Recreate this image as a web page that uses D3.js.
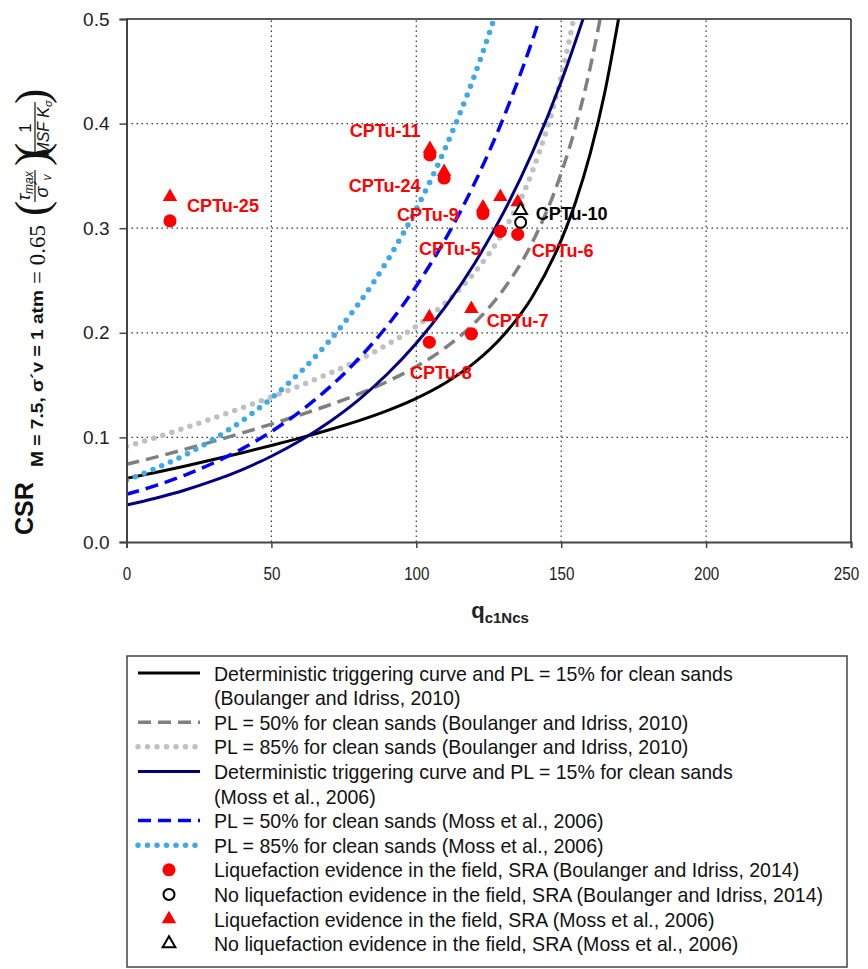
<!DOCTYPE html>
<html>
<head>
<meta charset="utf-8">
<script src="https://cdn.jsdelivr.net/npm/d3@7"></script>
<style>
body { margin: 0; background: #fff; overflow: hidden; }
text { font-family: "Liberation Sans", Arial, sans-serif; }
</style>
</head>
<body>
<div id="chart"></div>
<script>
// curves (q_c1Ncs -> CSR)
var biQ = [0, 10, 20, 30, 40, 50, 60, 70, 80, 90, 100, 110, 120, 130, 140, 150, 155, 160, 165, 170];
var biPL15 = [0.0608, 0.0664, 0.0724, 0.0788, 0.0854, 0.0923, 0.0995, 0.1073, 0.1158, 0.1256, 0.1373, 0.1520, 0.1712, 0.1974, 0.2343, 0.2886, 0.3253, 0.3713, 0.4293, 0.5035];
var biPL50 = [0.0743, 0.0811, 0.0885, 0.0962, 0.1043, 0.1127, 0.1216, 0.1310, 0.1414, 0.1534, 0.1677, 0.1857, 0.2091, 0.2411, 0.2862, 0.3526, 0.3974, 0.4535, 0.5243, 0.6149];
var biPL85 = [0.0914, 0.0998, 0.1089, 0.1184, 0.1283, 0.1387, 0.1496, 0.1612, 0.1740, 0.1887, 0.2063, 0.2284, 0.2573, 0.2966, 0.3540, 0.4450, 0.5100, 0.5850, 0.6600, 0.7566];

var mossQ = [0, 10, 20, 30, 40, 50, 60, 70, 80, 90, 100, 110, 120, 130, 140, 150, 160];
var mossPL15 = [0.0354, 0.0419, 0.0495, 0.0586, 0.0693, 0.0820, 0.0970, 0.1148, 0.1357, 0.1606, 0.1900, 0.2247, 0.2658, 0.3144, 0.3720, 0.4400, 0.5205];
var mossPL50 = [0.0456, 0.0539, 0.0638, 0.0755, 0.0893, 0.1056, 0.1250, 0.1478, 0.1749, 0.2068, 0.2447, 0.2894, 0.3424, 0.4050, 0.4791, 0.5667];
var mossPL85 = [0.0593, 0.0702, 0.0830, 0.0982, 0.1161, 0.1374, 0.1625, 0.1922, 0.2274, 0.2690, 0.3182, 0.3764, 0.4453, 0.5267];

// site points
var sites = ["CPTu-25", "CPTu-11", "CPTu-24", "CPTu-9", "CPTu-5", "CPTu-6", "CPTu-7", "CPTu-8"];
var siteQ = [15, 104.7, 109.6, 123, 129, 135, 119, 104.5];
var siteCsrBI = [0.307, 0.370, 0.348, 0.314, 0.297, 0.294, 0.199, 0.191];
var siteCsrMoss = [0.330, 0.376, 0.354, 0.320, 0.330, 0.325, 0.223, 0.215];
var noLiqSite = "CPTu-10";
var noLiqQ = [136];
var noLiqCsrBI = [0.3056];
var noLiqCsrMoss = [0.317];

// label anchors (left end, middle)
var labelNames = ["CPTu-25", "CPTu-11", "CPTu-24", "CPTu-9", "CPTu-5", "CPTu-6", "CPTu-10", "CPTu-7", "CPTu-8"];
var labelQ = [20.9, 77, 76.7, 93.3, 100.9, 139.8, 141.2, 124.3, 97.8];
var labelCsr = [0.322, 0.394, 0.341, 0.313, 0.281, 0.279, 0.314, 0.212, 0.1625];

var xTicks = [0, 50, 100, 150, 200, 250];
var yTicks = [0, 0.1, 0.2, 0.3, 0.4, 0.5];

var legendLabels = [
  ["Deterministic triggering curve and PL = 15% for clean sands", "(Boulanger and Idriss, 2010)"],
  ["PL = 50% for clean sands (Boulanger and Idriss, 2010)"],
  ["PL = 85% for clean sands (Boulanger and Idriss, 2010)"],
  ["Deterministic triggering curve and PL = 15% for clean sands", "(Moss et al., 2006)"],
  ["PL = 50% for clean sands (Moss et al., 2006)"],
  ["PL = 85% for clean sands (Moss et al., 2006)"],
  ["Liquefaction evidence in the field, SRA (Boulanger and Idriss, 2014)"],
  ["No liquefaction evidence in the field, SRA (Boulanger and Idriss, 2014)"],
  ["Liquefaction evidence in the field, SRA (Moss et al., 2006)"],
  ["No liquefaction evidence in the field, SRA (Moss et al., 2006)"]
];

var W = 868, H = 969;
var svg = d3.select("#chart").append("svg")
  .attr("width", W).attr("height", H);

var x = d3.scaleLinear().domain([0, 250]).range([126.5, 851]);
var y = d3.scaleLinear().domain([0, 0.5]).range([542, 19]);

// squeeze text horizontally, the original uses a narrow face
function narrow(sel, k) {
  sel.each(function() {
    var len = this.getComputedTextLength();
    d3.select(this).attr("textLength", len * k).attr("lengthAdjust", "spacingAndGlyphs");
  });
}

// grid
var grid = svg.append("g").attr("class", "grid");
grid.selectAll("line.v").data([50, 100, 150, 200]).enter().append("line")
  .attr("x1", x).attr("x2", x).attr("y1", y(0)).attr("y2", y(0.5))
  .attr("stroke", "#333").attr("stroke-width", 1.2).attr("stroke-dasharray", "1.5,3.5");
grid.selectAll("line.h").data([0.1, 0.2, 0.3, 0.4]).enter().append("line")
  .attr("y1", y).attr("y2", y).attr("x1", x(0)).attr("x2", x(250))
  .attr("stroke", "#333").attr("stroke-width", 1.2).attr("stroke-dasharray", "1.5,3.5");

svg.append("clipPath").attr("id", "plotclip").append("rect")
  .attr("x", x(0)).attr("y", y(0.5)).attr("width", x(250) - x(0)).attr("height", y(0) - y(0.5));

var curves = [
  {q: biQ, v: biPL85, color: "#c0c0c0", w: 5.5, dash: "0,9.5", cap: "round"},
  {q: biQ, v: biPL50, color: "#808080", w: 3.5, dash: "13,7", cap: "butt"},
  {q: biQ, v: biPL15, color: "#000000", w: 3, dash: null, cap: "butt"},
  {q: mossQ, v: mossPL85, color: "#3fa9e6", w: 5.5, dash: "0,9.5", cap: "round"},
  {q: mossQ, v: mossPL50, color: "#0000ff", w: 3.5, dash: "13,7", cap: "butt"},
  {q: mossQ, v: mossPL15, color: "#000080", w: 3, dash: null, cap: "butt"}
];

var line = d3.line().curve(d3.curveMonotoneX)
  .x(function(d) { return x(d[0]); })
  .y(function(d) { return y(d[1]); });

var curveG = svg.append("g").attr("clip-path", "url(#plotclip)");
curves.forEach(function(c) {
  var pts = c.v.map(function(v, i) { return [c.q[i], v]; });
  curveG.append("path")
    .attr("d", line(pts))
    .attr("fill", "none")
    .attr("stroke", c.color)
    .attr("stroke-width", c.w)
    .attr("stroke-linecap", c.cap)
    .attr("stroke-dasharray", c.dash);
});

// axes
svg.append("g")
  .attr("transform", "translate(0," + y(0) + ")")
  .call(d3.axisBottom(x).tickValues(xTicks).tickSize(6).tickPadding(19))
  .call(function(g) {
    g.select(".domain").attr("stroke", "#444").attr("stroke-width", 2);
    g.selectAll(".tick line").attr("stroke", "#444").attr("stroke-width", 1.5);
    g.selectAll("text").attr("font-size", 19).attr("fill", "#222").call(narrow, 0.8)
      .attr("dx", function(d) { return d == 250 ? -5 : 0; });
  });

svg.append("g")
  .attr("transform", "translate(" + x(0) + ",0)")
  .call(d3.axisLeft(y).tickValues(yTicks).tickFormat(d3.format(".1f")).tickSize(7).tickPadding(10))
  .call(function(g) {
    g.select(".domain").attr("stroke", "#444").attr("stroke-width", 2);
    g.selectAll(".tick line").attr("stroke", "#444").attr("stroke-width", 1.5);
    g.selectAll("text").attr("font-size", 19).attr("fill", "#222");
  });

// top and right frame
svg.append("line").attr("x1", x(0)).attr("x2", x(250)).attr("y1", y(0.5)).attr("y2", y(0.5))
  .attr("stroke", "#222").attr("stroke-width", 1.5);
svg.append("line").attr("x1", x(250)).attr("x2", x(250)).attr("y1", y(0.5)).attr("y2", y(0))
  .attr("stroke", "#222").attr("stroke-width", 1.5);

// markers
var circleSym = d3.symbol().type(d3.symbolCircle).size(135);
var triSym = d3.symbol().type(d3.symbolTriangle).size(90);
var circleSmall = d3.symbol().type(d3.symbolCircle).size(95);
var triSmall = d3.symbol().type(d3.symbolTriangle).size(70);

var marks = svg.append("g");
marks.selectAll("path.tri").data(siteQ).enter().append("path")
  .attr("d", triSym)
  .attr("transform", function(d, i) { return "translate(" + x(d) + "," + y(siteCsrMoss[i]) + ")"; })
  .attr("fill", "#ff0000");
marks.selectAll("path.cir").data(siteQ).enter().append("path")
  .attr("d", circleSym)
  .attr("transform", function(d, i) { return "translate(" + x(d) + "," + y(siteCsrBI[i]) + ")"; })
  .attr("fill", "#ff0000");
marks.selectAll("path.otri").data(noLiqQ).enter().append("path")
  .attr("d", triSmall)
  .attr("transform", function(d, i) { return "translate(" + x(d) + "," + y(noLiqCsrMoss[i]) + ")"; })
  .attr("fill", "#fff").attr("stroke", "#000").attr("stroke-width", 2);
marks.selectAll("path.ocir").data(noLiqQ).enter().append("path")
  .attr("d", circleSmall)
  .attr("transform", function(d, i) { return "translate(" + x(d) + "," + y(noLiqCsrBI[i]) + ")"; })
  .attr("fill", "#fff").attr("stroke", "#000").attr("stroke-width", 2);

svg.append("g").selectAll("text").data(labelNames).enter().append("text")
  .attr("x", function(d, i) { return x(labelQ[i]); })
  .attr("y", function(d, i) { return y(labelCsr[i]); })
  .attr("dy", "0.36em")
  .attr("font-size", 19).attr("font-weight", "bold")
  .attr("fill", function(d) { return d == noLiqSite ? "#000" : "#ff0000"; })
  .text(function(d) { return d; })
  .call(narrow, 0.95);

// x axis title
var xt = svg.append("text").attr("x", 500).attr("y", 618)
  .attr("text-anchor", "middle").attr("font-weight", "bold").attr("fill", "#222");
xt.append("tspan").attr("font-size", 22).text("q");
xt.append("tspan").attr("font-size", 15).attr("dy", 5).text("c1Ncs");

// y axis title (rotated)
var yt = svg.append("g").attr("transform", "rotate(-90)");
yt.append("text").attr("x", -535).attr("y", 33)
  .attr("font-size", 25).attr("font-weight", "bold").attr("fill", "#111").text("CSR");
yt.append("text").attr("x", -467).attr("y", 43)
  .attr("font-size", 17).attr("font-weight", "bold").attr("fill", "#111")
  .attr("textLength", 177).attr("lengthAdjust", "spacingAndGlyphs")
  .text("M = 7.5, σ´v = 1 atm");
var serif = "'Liberation Serif', 'DejaVu Serif', serif";
yt.append("text").attr("x", -284).attr("y", 45)
  .attr("font-size", 23).attr("fill", "#111").style("font-family", serif).text("= 0.65");
// parentheses
[[-216, "("], [-166, ")"], [-158, "("], [-104, ")"]].forEach(function(p) {
  yt.append("text").attr("x", p[0]).attr("y", 47)
    .attr("font-size", 46).attr("fill", "#111").style("font-family", serif)
    .text(p[1]);
});
// fraction 1
var f1 = yt.append("g").style("font-family", serif).attr("fill", "#111");
var n1 = f1.append("text").attr("x", -186).attr("y", 30).attr("text-anchor", "middle").attr("font-style", "italic");
n1.append("tspan").attr("font-size", 18).text("τ");
n1.append("tspan").attr("font-size", 12).attr("dy", 3).text("max");
f1.append("line").attr("x1", -202).attr("x2", -170).attr("y1", 35).attr("y2", 35).attr("stroke", "#111").attr("stroke-width", 1.2);
var d1 = f1.append("text").attr("x", -186).attr("y", 48).attr("text-anchor", "middle").attr("font-style", "italic");
d1.append("tspan").attr("font-size", 18).text("σ´");
d1.append("tspan").attr("font-size", 12).attr("dy", 3).text("v");
// fraction 2
var f2 = yt.append("g").style("font-family", serif).attr("fill", "#111");
f2.append("text").attr("x", -128).attr("y", 31).attr("text-anchor", "middle").attr("font-size", 17).text("1");
f2.append("line").attr("x1", -154).attr("x2", -102).attr("y1", 35).attr("y2", 35).attr("stroke", "#111").attr("stroke-width", 1.2);
var d2 = f2.append("text").attr("x", -128).attr("y", 49).attr("text-anchor", "middle").attr("font-style", "italic");
d2.append("tspan").attr("font-size", 16).text("MSF K");
d2.append("tspan").attr("font-size", 11).attr("dy", 3).text("σ");

// legend
var lg = svg.append("g");
lg.append("rect").attr("x", 127).attr("y", 656).attr("width", 720).attr("height", 311)
  .attr("fill", "none").attr("stroke", "#444").attr("stroke-width", 1.5);

var legendSwatch = [
  {type: "line", c: curves[2]}, {type: "line", c: curves[1]}, {type: "line", c: curves[0]},
  {type: "line", c: curves[5]}, {type: "line", c: curves[4]}, {type: "line", c: curves[3]},
  {type: "circle", fill: "#ff0000"}, {type: "circle", fill: "#fff"},
  {type: "tri", fill: "#ff0000"}, {type: "tri", fill: "#fff"}
];
var rowH = 24.6, row0 = 673;
var row = 0;
legendLabels.forEach(function(lines, i) {
  var cy = row0 + row * rowH;
  var s = legendSwatch[i];
  if (s.type == "line") {
    lg.append("line").attr("x1", 138).attr("x2", 200).attr("y1", cy).attr("y2", cy)
      .attr("stroke", s.c.color).attr("stroke-width", s.c.w)
      .attr("stroke-linecap", s.c.cap).attr("stroke-dasharray", s.c.dash);
  } else {
    var open = s.fill == "#fff";
    lg.append("path")
      .attr("d", s.type == "circle" ? (open ? circleSmall : circleSym) : (open ? triSmall : triSym))
      .attr("transform", "translate(169," + cy + ")")
      .attr("fill", s.fill).attr("stroke", open ? "#000" : "none").attr("stroke-width", 2);
  }
  lines.forEach(function(t) {
    lg.append("text").attr("x", 214).attr("y", row0 + row * rowH).attr("dy", "0.36em")
      .attr("font-size", 21).attr("fill", "#111")
      .text(t)
      .call(narrow, 0.93);
    row++;
  });
});
</script>
</body>
</html>
